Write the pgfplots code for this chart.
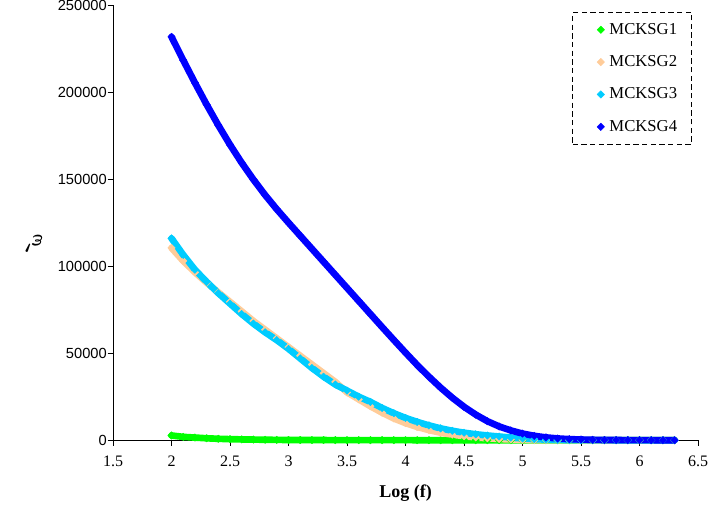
\documentclass[border=0pt]{standalone}
\usepackage{fontspec}
\setmainfont{Liberation Serif}
\setsansfont{Liberation Sans}
\usepackage{amsmath,bm,graphicx}
\usepackage{pgfplots}
\pgfplotsset{compat=1.18}
\usepackage{pgfplotstable}

\definecolor{sgone}{RGB}{0,255,0}
\definecolor{sgtwo}{RGB}{255,204,153}
\definecolor{sgthree}{RGB}{0,204,255}
\definecolor{sgfour}{RGB}{0,0,255}

\pgfplotsset{mk/.style={color=#1, mark options={solid, rotate=45, fill=#1, draw=#1, line width=0.3pt}}}

% x = log(f), then eps' for MCKSG1..MCKSG4
\pgfplotstableread{
x    g1    g2      g3      g4
2.0  2700  110500  116000  231800
2.1  1900  103000  106500  218400
2.2  1500  96500   98000   205400
2.3  1100  90500   91000   192900
2.4  800   85000   84500   181000
2.5  600   79500   78500   169800
2.6  450   74000   72500   159400
2.7  350   68500   67000   149800
2.8  250   63500   62000   140900
2.9  180   58500   57500   132700
3.0  130   53500   52500   125000
3.1  100   48500   47000   117500
3.2  80    43500   41500   110000
3.3  65    38500   36500   102500
3.4  50    33500   32000   95000
3.5  40    27500   28500   87500
3.6  32    23500   25000   80000
3.7  26    19500   22000   72500
3.8  22    15800   18500   65000
3.9  18    12500   15500   57600
4.0  15    9800    12800   50300
4.1  12    7600    10500   43200
4.2  10    5800    8500    36500
4.3  8     4300    6800    30200
4.4  6     3200    5400    24400
4.5  5     2300    4300    19200
4.6  4     1600    3400    14700
4.7  3     1100    2700    10900
4.8  3     700     2100    7900
4.9  2     400     1500    5600
5.0  2     200     1000    3800
5.1  2     100     600     2500
5.2  1     50      350     1600
5.3  1     30      200     1000
5.4  1     20      100     600
5.5  1     10      50      380
5.6  1     8       30      220
5.7  0     5       20      130
5.8  0     4       10      75
5.9  0     3       8       45
6.0  0     2       5       25
6.1  0     1       3       15
6.2  0     1       2       8
6.3  0     0       1       5
}\data

\begin{document}
\begin{tikzpicture}
\begin{axis}[
  scale only axis, width=438.75pt, height=326.25pt,
  xmin=1.5, xmax=6.5, ymin=0, ymax=250000,
  axis lines*=left, clip=false,
  xtick={1.5,2,2.5,3,3.5,4,4.5,5,5.5,6,6.5},
  ytick={0,50000,100000,150000,200000,250000},
  tick align=outside, major tick length=4pt,
  tick style={black, line width=0.6pt},
  axis line style={line width=0.6pt},
  scaled y ticks=false,
  /pgf/number format/.cd, fixed, precision=1, 1000 sep={}, assume math mode=true,
  /pgfplots/.cd,
  xticklabel style={font=\fontsize{12}{14}\selectfont, inner xsep=0pt, yshift=-4pt},
  yticklabel style={font=\sffamily\fontsize{11}{13}\selectfont, inner ysep=0pt, inner xsep=0.5pt},
  xlabel={\textbf{Log (f)}},
  xlabel style={font=\fontsize{13.5}{15}\selectfont, yshift=-7pt},
  ylabel={\rotatebox{90}{$\bm{\varepsilon'}$}},
  ylabel style={font=\fontsize{18}{20}\selectfont, xshift=-16pt, yshift=7pt},
  every axis plot/.append style={line width=5pt, line join=round, line cap=round,
    mark=square*, mark size=2pt},
  legend image code/.code={\path (-9.5pt,0pt) (2pt,0pt);
    \draw[#1, only marks] plot coordinates {(0pt,0pt)};},
  legend cell align=left,
  legend style={at={(rel axis cs:0.99,0.984)}, anchor=north east,
    draw=black, line width=0.6pt, dash pattern=on 4pt off 2.5pt,
    font=\fontsize{12.5}{14}\selectfont, row sep=10.5pt,
    inner xsep=9pt, inner ysep=6pt},
]
\addplot[mk=sgone] table[x=x, y=g1] {\data};
\addlegendentry{MCKSG1}
\addplot[mk=sgtwo] table[x=x, y=g2] {\data};
\addlegendentry{MCKSG2}
\addplot[mk=sgthree] table[x=x, y=g3] {\data};
\addlegendentry{MCKSG3}
\addplot[mk=sgfour] table[x=x, y=g4] {\data};
\addlegendentry{MCKSG4}
\path (rel axis cs:-0.1932,-0.1517) rectangle (rel axis cs:1.0188,1.0115);
\end{axis}
\end{tikzpicture}
\end{document}
